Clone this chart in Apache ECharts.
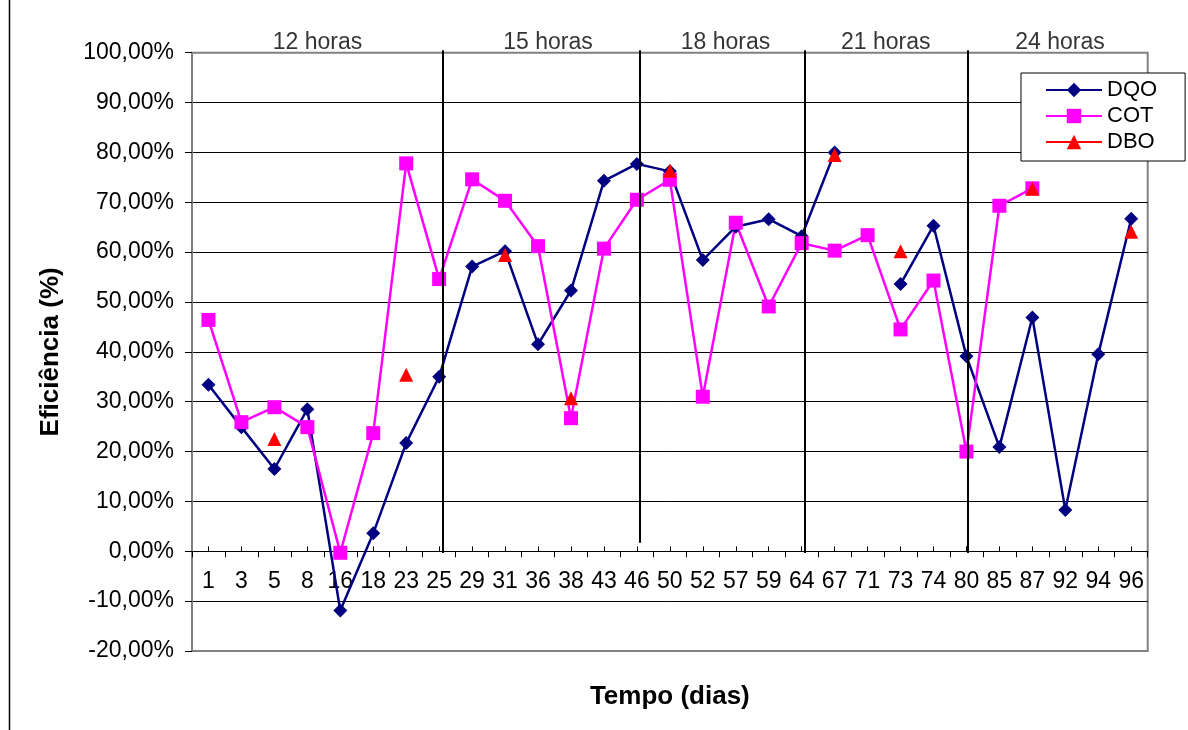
<!DOCTYPE html>
<html>
<head>
<meta charset="utf-8">
<script src="https://cdn.jsdelivr.net/npm/echarts@6/dist/echarts.min.js"></script>
<style>
html,body{margin:0;padding:0;background:#fff;}
#chart{width:1188px;height:730px;}
</style>
</head>
<body>
<div id="chart"></div>
<script>
// ---- data ----
const categories = ['1','3','5','8','16','18','23','25','29','31','36','38','43','46','50','52','57','59','64','67','71','73','74','80','85','87','92','94','96'];
const dqo = [33.4, 24.9, 16.5, 28.5, -11.9, 3.6, 21.7, 35.0, 57.1, 60.2, 41.5, 52.3, 74.3, 77.7, 76.2, 58.4, 65.1, 66.6, 63.2, 80.0, null, 53.6, 65.3, 39.1, 20.9, 46.9, 8.3, 39.5, 66.7];
const cot = [46.4, 25.9, 28.9, 24.9, -0.3, 23.7, 77.8, 54.6, 74.6, 70.3, 61.2, 26.7, 60.7, 70.5, 74.5, 31.0, 65.9, 49.1, 61.8, 60.3, 63.4, 44.5, 54.3, 20.0, 69.3, 72.8, null, null, null];
const dbo = [null, null, 22.5, null, null, null, 35.4, null, null, 59.4, null, 30.7, null, null, 76.3, null, null, null, null, 79.5, null, 60.2, null, null, null, 72.7, null, null, 64.1];
const groupLabels = ['12 horas', '15 horas', '18 horas', '21 horas', '24 horas'];
const yTicks = { min: -20, max: 100, step: 10 };

// annotation layout (in category units along the x axis)
const groupLabelPos = [3.81, 10.8, 16.19, 21.05, 26.34];
const separatorPos = [7.6, 13.6, 18.6, 23.54];
const separatorBottom = [0, 0.02, 0, 0];
const separatorTop = 0.986;

const FONT = 'Liberation Sans, Arial, sans-serif';

const chart = echarts.init(document.getElementById('chart'));

const option = {
  backgroundColor: '#ffffff',
  animation: false,
  textStyle: { fontFamily: FONT, color: '#000' },
  graphic: [{
    type: 'line',
    shape: { x1: 9.5, y1: 0, x2: 9.5, y2: 730 },
    style: { stroke: '#000', lineWidth: 1.5 },
    silent: true
  }],
  legend: {
    data: ['DQO', 'COT', 'DBO'],
    orient: 'vertical',
    left: 1021,
    top: 73,
    padding: [6, 28, 8, 24],
    itemGap: 4,
    itemWidth: 56,
    itemHeight: 18,
    backgroundColor: '#fff',
    borderColor: '#000',
    borderWidth: 1,
    textStyle: { fontSize: 22, fontFamily: FONT, color: '#000' }
  },
  grid: [
    // main plot area
    { left: 192, right: 40.3, top: 52.7, bottom: 79, show: true, borderColor: '#808080', borderWidth: 2, backgroundColor: '#fff', containLabel: false, outerBoundsMode: 'none' },
    // annotation layer (group separators + titles)
    { left: 192, right: 40.3, top: 43, bottom: 177, show: false, containLabel: false, outerBoundsMode: 'none' },
    // category axis drawn at the 0 % line
    { left: 192, right: 40.3, top: 52.7, bottom: 178.7, show: false, containLabel: false, outerBoundsMode: 'none' }
  ],
  xAxis: [
    { type: 'category', gridIndex: 0, data: categories, boundaryGap: true, show: false },
    { type: 'value', gridIndex: 1, min: 0, max: categories.length, show: false },
    {
      type: 'category', gridIndex: 2, data: categories, boundaryGap: true, position: 'bottom',
      axisLine: { show: true, onZero: false, lineStyle: { color: '#000', width: 1 } },
      axisTick: { show: true, inside: false, length: 6, lineStyle: { color: '#000', width: 1 } },
      axisLabel: { interval: 0, margin: 19, fontSize: 23, fontFamily: FONT, color: '#000' },
      name: 'Tempo (dias)', nameLocation: 'middle', nameGap: 133,
      nameTextStyle: { fontSize: 26, fontWeight: 'bold', fontFamily: FONT, color: '#000' },
      splitLine: { show: false }
    },
    {
      type: 'category', gridIndex: 2, data: categories, boundaryGap: true, position: 'bottom',
      axisLine: { show: false, onZero: false },
      axisTick: { show: true, inside: true, alignWithLabel: true, length: 5, lineStyle: { color: '#000', width: 1 } },
      axisLabel: { show: false },
      splitLine: { show: false }
    }
  ],
  yAxis: [
    {
      type: 'value', gridIndex: 0, min: yTicks.min, max: yTicks.max, interval: yTicks.step,
      axisLine: { show: true, onZero: false, lineStyle: { color: '#808080', width: 2 } },
      axisTick: { show: true, inside: false, length: 7, lineStyle: { color: '#000', width: 1 } },
      axisLabel: {
        margin: 18, fontSize: 23, fontFamily: FONT, color: '#000',
        formatter: v => v.toFixed(2).replace('.', ',') + '%'
      },
      splitLine: { show: true, showMinLine: false, showMaxLine: false, lineStyle: { color: '#000', width: 1 } },
      name: 'Eficiência (%)', nameLocation: 'middle', nameGap: 128,
      nameTextStyle: { fontSize: 26, fontWeight: 'bold', fontFamily: FONT, color: '#000' }
    },
    { type: 'value', gridIndex: 1, min: 0, max: 1, show: false },
    { type: 'value', gridIndex: 2, min: 0, max: 1, show: false }
  ],
  series: [
    {
      name: 'DQO', type: 'line', xAxisIndex: 0, yAxisIndex: 0, data: dqo,
      connectNulls: false,
      symbol: 'diamond', symbolSize: 14, showAllSymbol: true,
      lineStyle: { color: '#000080', width: 2.5 },
      itemStyle: { color: '#000080' }
    },
    {
      name: 'COT', type: 'line', xAxisIndex: 0, yAxisIndex: 0, data: cot,
      connectNulls: false,
      symbol: 'rect', symbolSize: 14, showAllSymbol: true,
      lineStyle: { color: '#FF00FF', width: 2.5 },
      itemStyle: { color: '#FF00FF' }
    },
    {
      name: 'DBO', type: 'line', xAxisIndex: 0, yAxisIndex: 0, data: dbo,
      connectNulls: false,
      symbol: 'triangle', symbolSize: 14, showAllSymbol: true,
      lineStyle: { color: '#FF0000', width: 2.5 },
      itemStyle: { color: '#FF0000' }
    },
    {
      name: 'groups', type: 'scatter', xAxisIndex: 1, yAxisIndex: 1, silent: true,
      symbolSize: 1, itemStyle: { color: 'rgba(0,0,0,0)' },
      data: groupLabels.map((g, i) => ({ name: g, value: [groupLabelPos[i], 1] })),
      label: { show: true, position: 'inside', formatter: '{b}', fontSize: 23, fontFamily: FONT, color: '#000' },
      markLine: {
        silent: true, symbol: 'none', animation: false,
        label: { show: false },
        lineStyle: { color: '#000', width: 2, type: 'solid' },
        data: separatorPos.map((x, i) => [{ coord: [x, separatorBottom[i]] }, { coord: [x, separatorTop] }])
      }
    }
  ]
};
chart.setOption(option);
</script>
</body>
</html>
